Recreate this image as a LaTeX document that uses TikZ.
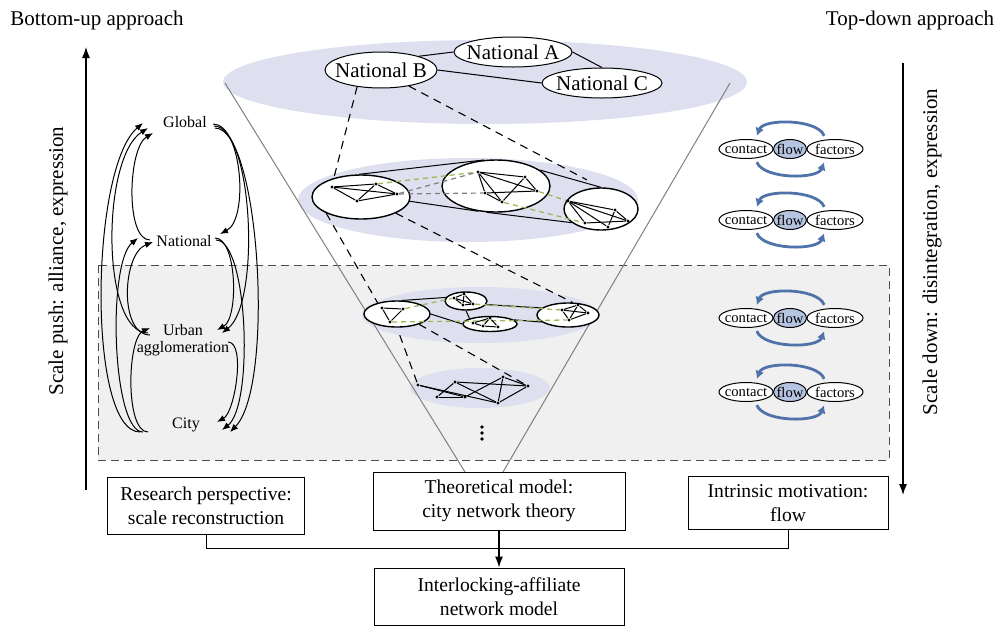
\documentclass[tikz,border=0pt]{standalone}
\usepackage{fontspec}
\setmainfont{Liberation Serif}
\usetikzlibrary{arrows.meta,calc,positioning,shapes.geometric}
\definecolor{lavanda}{rgb}{0.87, 0.88, 0.94}
\definecolor{grisfondo}{rgb}{0.94, 0.94, 0.94}
\definecolor{azulflujo}{rgb}{0.71, 0.77, 0.88}
\definecolor{azulflecha}{rgb}{0.31, 0.45, 0.66}
\definecolor{verdeenlace}{rgb}{0.61, 0.73, 0.35}
\tikzset{
  caja/.style={
    draw,
    align=center,
    inner sep=3pt,
    font=\fontsize{9.8}{11.8}\selectfont
  },
  titulo/.style={
    inner sep=1pt,
    font=\fontsize{10.5}{12.5}\selectfont
  },
  nacion/.style={
    ellipse,
    draw,
    fill=white,
    inner sep=0pt,
    font=\fontsize{10.5}{12}\selectfont
  },
  escala/.style={
    align=center,
    inner sep=1pt,
    font=\fontsize{8}{8.6}\selectfont
  },
  circulo/.style={
    ellipse,
    draw,
    fill=white,
    inner sep=0pt,
    line width=.7pt
  },
  punto/.style={
    circle,
    fill=black,
    inner sep=0pt,
    minimum size=1.7pt
  },
  factor/.style={
    ellipse,
    draw,
    fill=white,
    inner sep=0pt,
    minimum height=9.5pt,
    font=\fontsize{7.3}{8.5}\selectfont
  },
  enlace/.style={
    verdeenlace,
    line width=.65pt,
    dash pattern=on 2.5pt off 2pt
  },
  enlacegris/.style={
    gray,
    line width=.6pt,
    dash pattern=on 2.5pt off 2pt
  },
  lupa/.style={
    line width=.55pt,
    dash pattern=on 4pt off 3pt
  },
  ciclo/.style={
    -{Latex[length=4pt,width=4.5pt]},
    line width=1.4pt,
    azulflecha
  },
  escalon/.style={
    -{Latex[length=4pt,width=3.2pt]},
    line width=.5pt
  },
  arrow/.style={
    -{Latex[length=5.5pt,width=4pt]},
    line width=.6pt
  }
}

\begin{document}
\begin{tikzpicture}[x=.5pt, y=-.5pt, line width=.5pt]
\useasboundingbox (0,0) rectangle (999,627);

% zona inferior
\draw[black!70, fill=grisfondo, dash pattern=on 4pt off 2.5pt] (98,265) rectangle (889,460);

% enfoques
\node[titulo] (bu) at (97,20) {Bottom-up approach};
\node[titulo] (td) at (910,20) {Top-down approach};
\coordinate (pushbot) at (86,490);
\coordinate (pushtop) at (86,47);
\draw[arrow] (pushbot) -- (pushtop);
\node[titulo, rotate=90] (push) at (58,261) {Scale push: alliance, expression};
\coordinate (downtop) at (903,63);
\coordinate (downbot) at (903,495);
\draw[arrow] (downtop) -- (downbot);
\node[titulo, rotate=90] (down) at (932,252) {Scale down: disintegration, expression};

% niveles del cono
\fill[lavanda] (485,82) ellipse (262 and 42);
\fill[lavanda] (468,200) ellipse (170 and 42);
\fill[lavanda] (480,315) ellipse (118 and 28);
\fill[lavanda] (480,388) ellipse (70 and 20);
\draw[gray] (225,83) -- (465,472);
\draw[gray] (730,83) -- (503,472);

% nivel nacional
\node[nacion, minimum width=56pt, minimum height=18pt] (natb) at (381,70) {\makebox[0pt]{National B}};
\node[nacion, minimum width=59pt, minimum height=15pt] (nata) at (513,52) {\makebox[0pt]{National A}};
\node[nacion, minimum width=60pt, minimum height=15pt] (natc) at (602,83) {\makebox[0pt]{National C}};
\draw (natb.20) -- (nata.west);
\draw (natb.east) -- (natc.west);
\draw (nata.east) -- (natc.north);

% nivel 2
\node[circulo, minimum width=49pt, minimum height=22pt] (cl) at (361,197) {};
\node[circulo, minimum width=54pt, minimum height=26pt] (cm) at (496,186) {};
\node[circulo, minimum width=37pt, minimum height=21pt] (cr) at (601,209) {};
\draw (cl.95) -- (cm.115);
\draw (cl.-5) -- (cm.235);
\draw (cm.20) -- (cr.north);
\draw (cm.250) -- (cr.205);
\node[punto] (a1) at (332,187) {};
\node[punto] (a2) at (376,184) {};
\node[punto] (a3) at (397,194) {};
\node[punto] (a4) at (357,201) {};
\node[punto] (b1) at (478,172) {};
\node[punto] (b2) at (525,177) {};
\node[punto] (b3) at (537,191) {};
\node[punto] (b4) at (485,193) {};
\node[punto] (b5) at (502,202) {};
\node[punto] (c1) at (568,201) {};
\node[punto] (c2) at (615,210) {};
\node[punto] (c3) at (628,221) {};
\node[punto] (c4) at (608,227) {};
\node[punto] (c5) at (585,223) {};
\draw[enlace] (a2) -- (b1);
\draw[enlacegris] (a3) -- (b1);
\draw[enlacegris] (a3) -- (b4);
\draw[enlace] (b3) -- (c1);
\draw[enlace] (b5) -- (c5);
\foreach \u/\v in {a1/a2,a1/a3,a1/a4,a2/a3,a2/a4,a4/a3,
  b1/b2,b1/b4,b1/b5,b1/b3,b2/b3,b2/b5,b4/b3,b4/b5,
  c1/c2,c1/c3,c1/c4,c1/c5,c2/c3,c2/c4,c3/c5}
  \draw (\u) -- (\v);

% nivel 3
\node[circulo, minimum width=33pt, minimum height=13pt] (t1) at (397,314) {};
\node[circulo, minimum width=21pt, minimum height=9pt] (t2) at (466,301) {};
\node[circulo, minimum width=27pt, minimum height=7.5pt] (t3) at (490,324) {};
\node[circulo, minimum width=31pt, minimum height=12pt] (t4) at (568,315) {};
\draw (t1.70) -- (t2.170);
\draw (t1.east) -- (t3.west);
\draw (t2.south) -- (t3.165);
\draw (t2.-10) -- (t4.165);
\draw (t3.10) -- (t4.195);
\node[punto] (d1) at (382,308) {};
\node[punto] (d2) at (403,309) {};
\node[punto] (d3) at (390,322) {};
\node[punto] (e1) at (454,298) {};
\node[punto] (e2) at (464,294) {};
\node[punto] (e3) at (473,304) {};
\node[punto] (e4) at (463,305) {};
\node[punto] (f1) at (473,323) {};
\node[punto] (f2) at (490,318) {};
\node[punto] (f3) at (498,327) {};
\node[punto] (f4) at (483,326) {};
\node[punto] (g1) at (562,310) {};
\node[punto] (g2) at (578,305) {};
\node[punto] (g3) at (588,313) {};
\node[punto] (g4) at (569,320) {};
\draw[enlace] (d2) -- (e1);
\draw[enlace] (e3) -- (g1);
\draw[enlace] (d3) -- (g4);
\foreach \u/\v in {d1/d2,d2/d3,d3/d1,
  e1/e2,e2/e3,e3/e4,e4/e1,e1/e3,e2/e4,
  f1/f2,f2/f3,f3/f4,f4/f1,f2/f4,
  g1/g2,g2/g3,g3/g4,g4/g1,g1/g3,g2/g4}
  \draw (\u) -- (\v);

% nivel 4
\node[punto] (h1) at (418,385) {};
\node[punto] (h2) at (455,382) {};
\node[punto] (h3) at (503,377) {};
\node[punto] (h4) at (528,386) {};
\node[punto] (h5) at (437,397) {};
\node[punto] (h6) at (465,397) {};
\node[punto] (h7) at (498,403) {};
\foreach \u/\v in {h1/h6,h1/h7,h2/h4,h2/h5,h2/h7,h3/h6,h3/h7,h3/h4,h5/h6,h7/h4}
  \draw (\u) -- (\v);
% puntos suspensivos
\foreach \y in {427,433,439}
  \fill (482,\y) circle (.9pt);

% lineas de ampliacion
\draw[lupa] (natb.215) -- (cl.145);
\draw[lupa, shorten >=8pt] (natb.-30) -- (cr.north);
\draw[lupa] (cl.205) -- (t1.150);
\draw[lupa] (cl.-25) -- (t4.70);
\draw[lupa, shorten <=4pt] (t1.south) -- (h1);
\draw[lupa] (t1.-25) -- (h4);

% escalas
\node[escala] (glob) at (185,122) {Global};
\node[escala] (nac) at (184,241) {National};
\node[escala] (urb) at (183,340) {Urban\\agglomeration};
\node[escala] (ciu) at (186,425) {City};
\draw[escalon] ($(glob.center)+(28,2)$) .. controls +(29,0) and +(29,-15) .. ($(nac.center)+(36,-7)$);
\draw[escalon] ($(glob.center)+(29,4)$) .. controls +(39,0) and +(39,-30) .. ($(urb.center)+(39,-7)$);
\draw[escalon] ($(glob.center)+(30,6)$) .. controls +(45,0) and +(45,-45) .. ($(ciu.center)+(44,7)$);
\draw[escalon] ($(nac.center)+(31,-3)$) .. controls +(22,0) and +(22,-12) .. ($(urb.center)+(34,-10)$);
\draw[escalon] ($(nac.center)+(32,-1)$) .. controls +(32,0) and +(32,-25) .. ($(ciu.center)+(36,5)$);
\draw[escalon] ($(urb.center)+(45,2)$) .. controls +(18,0) and +(18,-10) .. ($(ciu.center)+(31,-3)$);
\draw[escalon] ($(nac.center)+(-34,-1)$) .. controls +(-25,0) and +(-25,15) .. ($(glob.center)+(-32,11)$);
\draw[escalon] ($(urb.center)+(-35,-7)$) .. controls +(-47,0) and +(-47,30) .. ($(glob.center)+(-37,6)$);
\draw[escalon] ($(ciu.center)+(-46,7)$) .. controls +(-53,0) and +(-53,45) .. ($(glob.center)+(-42,1)$);
\draw[escalon] ($(urb.center)+(-33,-5)$) .. controls +(-31,0) and +(-31,12) .. ($(nac.center)+(-31,1)$);
\draw[escalon] ($(ciu.center)+(-43,7)$) .. controls +(-31,0) and +(-31,25) .. ($(nac.center)+(-46,-3)$);
\draw[escalon] ($(ciu.center)+(-38,7)$) .. controls +(-23,0) and +(-23,10) .. ($(urb.center)+(-33,-12)$);

% contacto - flujo - factores
\foreach \i/\y in {1/149,2/220,3/318,4/392} {
  \node[factor, minimum width=27pt] (co\i) at (746,\y) {\makebox[0pt]{contact}};
  \node[factor, fill=azulflujo, minimum width=16.5pt] (fl\i) at (790,\y) {\makebox[0pt]{flow}};
  \node[factor, minimum width=28pt] (fa\i) at (835,\y) {\makebox[0pt]{factors}};
  \draw[ciclo, shorten <=2pt, shorten >=2pt] (fa\i.135) .. controls +(-8,-21) and +(8,-21) .. (co\i.45);
  \draw[ciclo, shorten <=2pt, shorten >=2pt] (co\i.-45) .. controls +(8,21) and +(-8,21) .. (fa\i.-135);
}

% cajas inferiores
\node[caja, minimum width=98.5pt, minimum height=28.5pt] (inv) at (206,506) {Research perspective:\\scale reconstruction};
\node[caja, minimum width=126pt, minimum height=29pt] (teo) at (499,501) {Theoretical model:\\city network theory};
\node[caja, minimum width=100pt, minimum height=26.5pt] (mot) at (788,503) {Intrinsic motivation:\\flow};
\node[caja, minimum width=125pt, minimum height=28.5pt, below=18.5pt of teo] (modelo) {Interlocking-affiliate\\network model};
\coordinate (union) at (499,548);
\draw (inv.south) |- (union) -| (mot.south);
\draw[arrow] (teo.south) -- (modelo.north);
\end{tikzpicture}
\end{document}
